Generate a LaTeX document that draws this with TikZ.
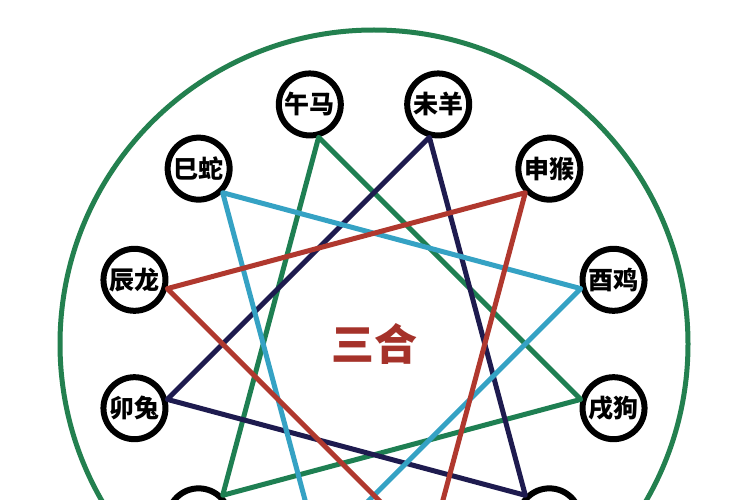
\documentclass[tikz,border=0pt]{standalone}
\usepackage{fontspec}
\usetikzlibrary{calc}
\newfontfamily\cjk{Noto Sans CJK SC}
\definecolor{ringgreen}{HTML}{23804F}
\definecolor{trigreen}{HTML}{1E7F52}
\definecolor{trinavy}{HTML}{1E1B4F}
\definecolor{trired}{HTML}{B0382E}
\definecolor{tricyan}{HTML}{35A2C4}
\definecolor{titlered}{HTML}{A5322A}
\tikzset{
  zodiac/.style={circle, draw=black, line width=6pt, fill=white, minimum size=62pt, inner sep=0pt, font=\cjk\bfseries\fontsize{25}{25}\selectfont},
  triline/.style={line width=5pt, line join=round, line cap=round},
}
\begin{document}
\begin{tikzpicture}[x=1pt,y=1pt]
\useasboundingbox (0,-500) rectangle (750,0);
\clip (0,-500) rectangle (750,0);
\fill[white] (0,-500) rectangle (750,0);
\coordinate (C) at (374,-344);
\draw[ringgreen, line width=5pt] (C) circle (314);
% nodes
\node[zodiac] (wu)   at ($(C)+(105:248)$) {午马};
\node[zodiac] (wei)  at ($(C)+(75:248)$)  {未羊};
\node[zodiac] (shen) at ($(C)+(45:248)$)  {申猴};
\node[zodiac] (you)  at ($(C)+(15:248)$)  {酉鸡};
\node[zodiac] (xu)   at ($(C)+(-15:248)$) {戌狗};
\node[zodiac] (hai)  at ($(C)+(-45:248)$) {};
\node[zodiac] (zi)   at ($(C)+(-75:248)$) {};
\node[zodiac] (chou) at ($(C)+(-105:248)$) {};
\node[zodiac] (yin)  at ($(C)+(-135:248)$) {};
\node[zodiac] (mao)  at ($(C)+(-165:248)$) {卯兔};
\node[zodiac] (chen) at ($(C)+(165:248)$) {辰龙};
\node[zodiac] (si)   at ($(C)+(135:248)$) {巳蛇};
% triangles
\draw[triline, trigreen] (wu.-75) -- (xu.165) -- (yin.45) -- cycle;
\draw[triline, trinavy] (wei.-105) -- (mao.15) -- (hai.135) -- cycle;
\draw[triline, tricyan] (si.-45) -- (you.195) -- (chou.75) -- cycle;
\draw[triline, trired] (shen.-135) -- (chen.-15) -- (zi.105) -- cycle;
\node[text=titlered, font=\cjk\bfseries\fontsize{43}{43}\selectfont] (title) at (C) {三合};
\end{tikzpicture}
\end{document}
